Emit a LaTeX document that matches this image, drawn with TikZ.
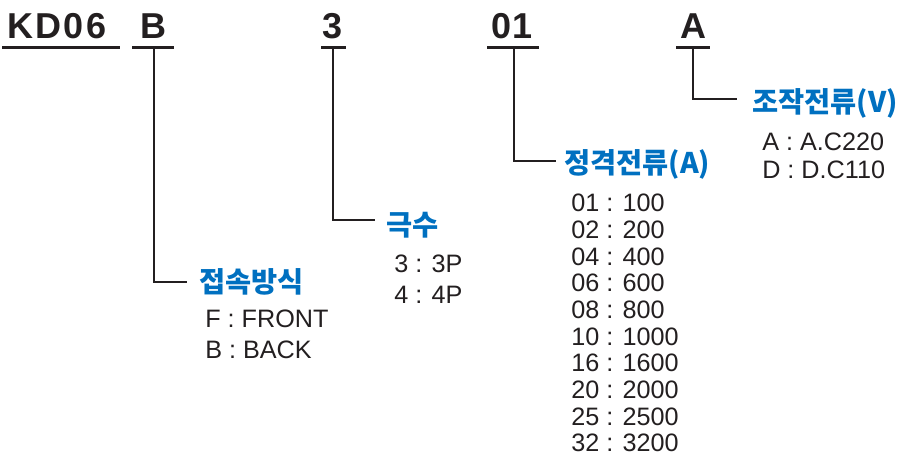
\documentclass[tikz,border=0pt]{standalone}
\usepackage{fontspec}
\setmainfont{Liberation Sans}
\newfontfamily\kofont{Noto Sans CJK KR}
\usetikzlibrary{positioning}
\definecolor{hdblue}{RGB}{0,112,192}
\definecolor{txtgray}{RGB}{35,31,32}
\tikzset{
  code/.style={anchor=base,inner sep=0pt,font=\fontsize{27}{30}\selectfont\bfseries,text=txtgray},
  uline/.style={line width=2.25,txtgray},
  link/.style={line width=1,txtgray},
  head/.style={anchor=base west,inner sep=0pt,font=\kofont\fontsize{21.3}{24}\selectfont\bfseries,text=hdblue},
  item/.style={anchor=base west,inner sep=0pt,font=\fontsize{18.9}{20}\selectfont,text=txtgray}
}
\begin{document}
\begin{tikzpicture}[x=0.75pt,y=0.75pt,yscale=-1,xscale=1]
		\useasboundingbox (0,0) rectangle (899,458);

		% code letters
		\node [code,anchor=base west,font=\fontsize{27}{30}\selectfont\bfseries\addfontfeatures{LetterSpace=6}] (kd) at (7.5,38) {K\kern1.5pt D06};
		\node [code] (cB) at (153.5,38) {B};
		\node [code] (c3) at (333,38) {3};
		\node [code] (c01) at (512,38) {01};
		\node [code] (cA) at (693,38) {A};

		\draw [uline] (2,47) -- (120,47) ;
		\draw [uline] (132,47) -- (174,47) ;
		\draw [uline] (321,47) -- (346,47) ;
		\draw [uline] (487,47) -- (539,47) ;
		\draw [uline] (676,47) -- (710,47) ;

		\coordinate (uB) at (154,47);
		\coordinate (u3) at (333,47);
		\coordinate (u01) at (514,47);
		\coordinate (uA) at (693,47);
		\coordinate (eB) at (187,282);
		\coordinate (e3) at (375,220);
		\coordinate (e01) at (556,161);
		\coordinate (eA) at (737,99);

		\draw [link] (uB) |- (eB) ;
		\draw [link] (u3) |- (e3) ;
		\draw [link] (u01) |- (e01) ;
		\draw [link] (uA) |- (eA) ;

		% headings
		\node [head] (hB) at (199,292) {접속방식};
		\node [head] (h3) at (386,235) {극수};
		\node [head] (h01) at (564,173) {정격전류(A)};
		\node [head] (hA) at (752,112) {조작전류(V)};

		% entries
		\node [item] (f) at (205,327) {F : FRONT};
		\node [item] (b) at (205,358) {B : BACK};
		\node [item] (p3) at (394,272) {3 : 3P};
		\node [item] (p4) at (394,303) {4 : 4P};
		\node [item] (ac) at (762,150) {A : A.C220};
		\node [item] (dc) at (762,178) {D : D.C110};
		\node [item] (a01) at (571,211.7) {01 : 100};
		\node [item] (a02) at (571,238.4) {02 : 200};
		\node [item] (a04) at (571,265) {04 : 400};
		\node [item] (a06) at (571,291.7) {06 : 600};
		\node [item] (a08) at (571,318.4) {08 : 800};
		\node [item] (a10) at (571,345) {10 : 1000};
		\node [item] (a16) at (571,371.7) {16 : 1600};
		\node [item] (a20) at (571,398.4) {20 : 2000};
		\node [item] (a25) at (571,425) {25 : 2500};
		\node [item] (a32) at (571,451.7) {32 : 3200};
\end{tikzpicture}
\end{document}
